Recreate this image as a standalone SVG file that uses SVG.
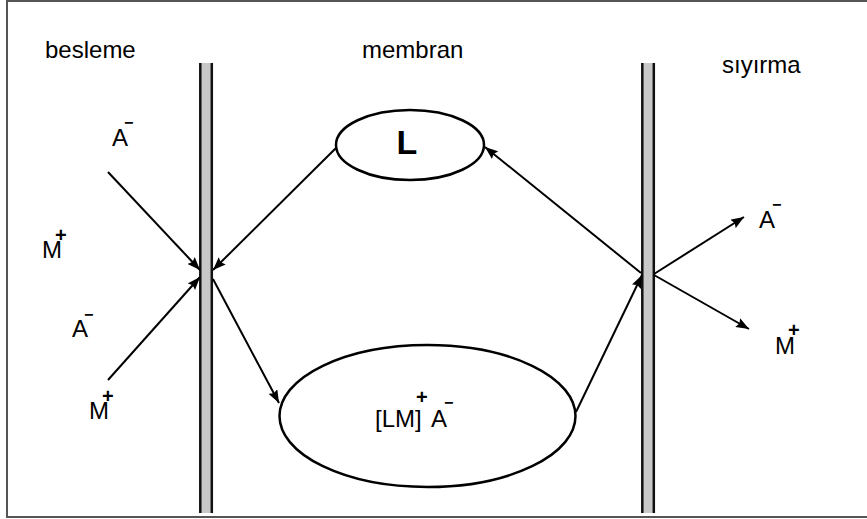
<svg xmlns="http://www.w3.org/2000/svg" width="867" height="519" viewBox="0 0 867 519">
<defs>
<style>
text{font-family:"Liberation Sans",Arial,sans-serif;fill:#000}
.lbl{font-size:24px}
.pl{font-size:20px;font-weight:bold}
.mi{font-size:16px;font-weight:bold}
.ln{stroke:#000;stroke-width:2;fill:none;marker-end:url(#ah)}
.node{fill:#fff;stroke:#000;stroke-width:2.5}
.mem{fill:#c8c8c8}
.memln{stroke:#111;stroke-width:2.5}
</style>
<marker id="ah" markerUnits="userSpaceOnUse" markerWidth="14" markerHeight="10" refX="13" refY="5" orient="auto">
<path d="M0,0 L13,5 L0,10 L2,5 z" fill="#000"/>
</marker>
</defs>
<rect x="0" y="0" width="867" height="519" fill="#fff"/>
<rect x="7" y="1" width="880" height="516" fill="none" stroke="#555" stroke-width="2"/>

<g id="membrane-left">
<rect class="mem" x="199" y="63" width="14" height="450"/>
<line class="memln" x1="200.3" y1="63" x2="200.3" y2="513"/>
<line class="memln" x1="211.8" y1="63" x2="211.8" y2="513"/>
</g>
<g id="membrane-right">
<rect class="mem" x="641" y="63" width="14" height="450"/>
<line class="memln" x1="642.3" y1="63" x2="642.3" y2="513"/>
<line class="memln" x1="653.8" y1="63" x2="653.8" y2="513"/>
</g>

<g id="headers">
<text class="lbl" x="45" y="58">besleme</text>
<text class="lbl" x="362" y="58">membran</text>
<text class="lbl" x="722" y="73">sıyırma</text>
</g>

<g id="node-L">
<ellipse class="node" cx="410" cy="145" rx="74" ry="35"/>
<text x="407" y="154" font-size="34" font-weight="bold" text-anchor="middle">L</text>
</g>

<g id="node-LMA">
<ellipse class="node" cx="427.5" cy="416" rx="148" ry="71"/>
<text class="lbl"><tspan x="375" y="427">[LM]</tspan><tspan class="pl" x="416" y="404">+</tspan><tspan x="431" y="427">A</tspan><tspan class="mi" x="444" y="408">−</tspan></text>
</g>

<g id="label-A-top">
<text class="lbl"><tspan x="112" y="146">A</tspan><tspan class="mi" x="124" y="128">−</tspan></text>
</g>
<g id="label-M-left">
<text class="lbl"><tspan x="42" y="258">M</tspan><tspan class="pl" x="55" y="242">+</tspan></text>
</g>
<g id="label-A-left">
<text class="lbl"><tspan x="72" y="337">A</tspan><tspan class="mi" x="84" y="320">−</tspan></text>
</g>
<g id="label-M-bottom">
<text class="lbl"><tspan x="89" y="419">M</tspan><tspan class="pl" x="102" y="403">+</tspan></text>
</g>
<g id="label-A-right">
<text class="lbl"><tspan x="759" y="228">A</tspan><tspan class="mi" x="772" y="210">−</tspan></text>
</g>
<g id="label-M-right">
<text class="lbl"><tspan x="775" y="354">M</tspan><tspan class="pl" x="788" y="337">+</tspan></text>
</g>

<g id="connectors">
<line class="ln" x1="108" y1="172" x2="200" y2="270"/>
<line class="ln" x1="108" y1="380" x2="200" y2="277"/>
<line class="ln" x1="336" y1="148" x2="213" y2="270"/>
<line class="ln" x1="213" y1="279" x2="279" y2="403"/>
<line class="ln" x1="576" y1="412" x2="642" y2="275"/>
<line class="ln" x1="641" y1="273" x2="485" y2="147"/>
<line class="ln" x1="654" y1="274" x2="744" y2="217"/>
<line class="ln" x1="654" y1="275" x2="749" y2="329"/>
</g>
</svg>
